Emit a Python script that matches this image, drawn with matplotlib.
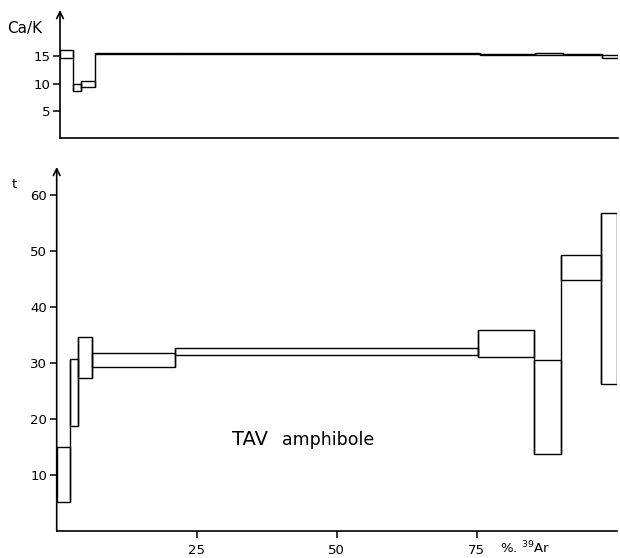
import numpy as np
import matplotlib
matplotlib.use('Agg')
import matplotlib.pyplot as plt

# step boundaries (% 39Ar released)
x_left = [0.0, 2.3, 3.8, 6.3, 21.1, 75.2, 85.2, 90.1, 97.2]
x_right = [2.3, 3.8, 6.3, 21.1, 75.2, 85.2, 90.1, 97.2, 100.0]

# apparent age t (box bottom / top)
age_low = [5.2, 18.7, 27.3, 29.2, 31.4, 31.0, 13.8, 44.8, 26.3]
age_high = [15.0, 30.8, 34.6, 31.8, 32.6, 35.9, 30.5, 49.3, 56.8]

# Ca/K ratio (box bottom / top)
cak_low = [14.7, 8.7, 9.4, 15.4, 15.4, 15.3, 15.2, 15.2, 14.6]
cak_high = [16.1, 10.0, 10.4, 15.6, 15.6, 15.5, 15.6, 15.5, 15.3]

W, H = 620, 558
fig = plt.figure(figsize=(W / 100, H / 100), dpi=100)

ax_top = fig.add_axes([60 / W, (H - 138) / H, 558 / W, 128 / H])
ax_bot = fig.add_axes([56.7 / W, (H - 531) / H, 560 / W, 364 / H])

widths = np.array(x_right) - np.array(x_left)


def spectrum(ax, lo, hi):
    lo = np.array(lo)
    hi = np.array(hi)
    ax.bar(x_left, hi - lo, width=widths, bottom=lo, align='edge',
           fill=False, edgecolor='k', lw=1.0)
    # join neighbouring steps with a continuous vertical line
    ax.vlines(x_right[:-1], np.minimum(lo[:-1], lo[1:]),
              np.maximum(hi[:-1], hi[1:]), color='k', lw=1.0)


spectrum(ax_top, cak_low, cak_high)
spectrum(ax_bot, age_low, age_high)

ax_top.set_xlim(0, 100)
ax_top.set_ylim(0, 23.5)
ax_bot.set_xlim(0, 100)
ax_bot.set_ylim(0, 65)

for ax in (ax_top, ax_bot):
    ax.spines['top'].set_visible(False)
    ax.spines['right'].set_visible(False)
    ax.spines['left'].set_visible(False)
    ax.spines['bottom'].set_linewidth(1.2)
    ax.annotate('', xy=(0, 1.0), xytext=(0, 0), xycoords='axes fraction',
                arrowprops=dict(arrowstyle='->', lw=1.2, color='k',
                                shrinkA=0, shrinkB=0, mutation_scale=12))
    ax.tick_params(axis='y', direction='out', length=5, width=1.1,
                   labelsize=9.5, pad=2)

ax_top.set_yticks([5, 10, 15])
ax_top.set_xticks([])
ax_bot.set_yticks([10, 20, 30, 40, 50, 60])
ax_bot.set_xticks([25, 50, 75])
ax_bot.tick_params(axis='x', direction='out', length=5, width=1.1,
                   labelsize=9.5, pad=4)

fig.text(7 / W, 1 - 28 / H, 'Ca/K', fontsize=11, va='center', ha='left')
fig.text(12 / W, 1 - 184 / H, 't', fontsize=9.5, va='center', ha='left')
fig.text(500 / W, 1 - 548 / H, '%. $^{39}$Ar', fontsize=9.5,
         va='center', ha='left')
fig.text(232 / W, 1 - 445 / H, 'TAV', fontsize=14, ha='left',
         va='baseline')
fig.text(282 / W, 1 - 445 / H, 'amphibole', fontsize=12.5, ha='left',
         va='baseline')

fig.savefig('out.png', dpi=100)
